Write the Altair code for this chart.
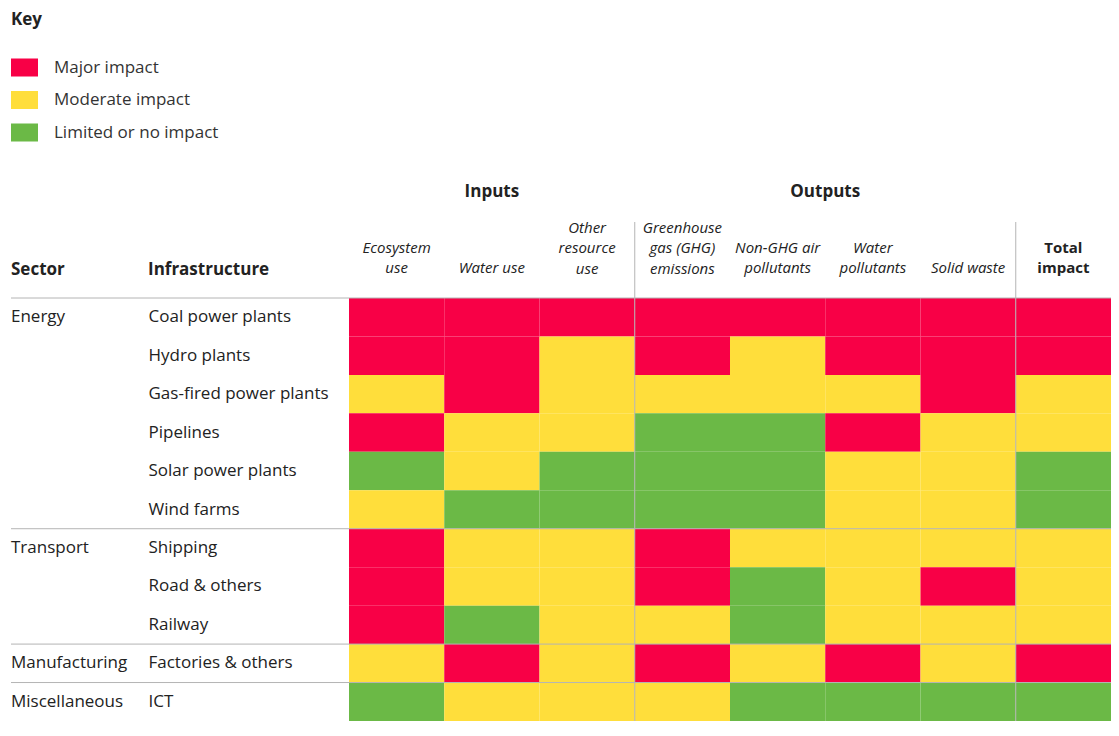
import altair as alt
import pandas as pd

# ---- data ----
sectors = ["Energy", "Energy", "Energy", "Energy", "Energy", "Energy",
           "Transport", "Transport", "Transport", "Manufacturing", "Miscellaneous"]
infrastructure = ["Coal power plants", "Hydro plants", "Gas-fired power plants", "Pipelines",
                  "Solar power plants", "Wind farms", "Shipping", "Road & others", "Railway",
                  "Factories & others", "ICT"]
columns = ["Ecosystem\nuse", "Water use", "Other\nresource\nuse",
           "Greenhouse\ngas (GHG)\nemissions", "Non-GHG air\npollutants",
           "Water\npollutants", "Solid waste", "Total\nimpact"]
levels = ["Major impact", "Moderate impact", "Limited or no impact"]
colors = ["#F80046", "#FFDE3B", "#6BB946"]
code_names = {"M": "Major impact", "O": "Moderate impact", "L": "Limited or no impact"}
impact_rows = [
    ["M", "M", "M", "M", "M", "M", "M", "M"],  # Coal power plants
    ["M", "M", "O", "M", "O", "M", "M", "M"],  # Hydro plants
    ["O", "M", "O", "O", "O", "O", "M", "O"],  # Gas-fired power plants
    ["M", "O", "O", "L", "L", "M", "O", "O"],  # Pipelines
    ["L", "O", "L", "L", "L", "O", "O", "L"],  # Solar power plants
    ["O", "L", "L", "L", "L", "O", "O", "L"],  # Wind farms
    ["M", "O", "O", "M", "O", "O", "O", "O"],  # Shipping
    ["M", "O", "O", "M", "L", "O", "M", "O"],  # Road & others
    ["M", "L", "O", "O", "L", "O", "O", "O"],  # Railway
    ["O", "M", "O", "M", "O", "M", "O", "M"],  # Factories & others
    ["L", "O", "O", "O", "L", "L", "L", "L"],  # ICT
]
groups = ["Inputs", "Outputs"]

cells = pd.DataFrame([
    {"infrastructure": inf, "column": col, "impact": code_names[c]}
    for inf, row in zip(infrastructure, impact_rows)
    for col, c in zip(columns, row)
])
first_rows = pd.DataFrame([
    {"sector": s, "infrastructure": inf}
    for i, (s, inf) in enumerate(zip(sectors, infrastructure))
    if i == 0 or sectors[i - 1] != s
])

W, H = 762, 423
TEXT = "#222222"
LINE = "#B4B4B4"
LEFT = -338

xscale = alt.Scale(domain=columns, paddingInner=0, paddingOuter=0)
yscale = alt.Scale(domain=infrastructure, paddingInner=0, paddingOuter=0)

n_lines = "length(split(datum.value, '\\n'))"
x_axis = alt.Axis(
    orient="top", title=None, labelAngle=0, labelAlign="center", labelBaseline="bottom",
    labelPadding={"condition": [{"test": f"{n_lines} == 1", "value": 23},
                                {"test": f"{n_lines} == 2", "value": 43}],
                  "value": 63},
    labelFontSize=15, labelLineHeight=20.5, labelColor=TEXT,
    labelLimit=0, labelOverlap=False, domain=False, ticks=False, tickSize=0,
    labelExpr="split(datum.label, '\\n')",
    labelFontStyle={"condition": {"test": "indexof(datum.value, 'Total') >= 0", "value": "normal"},
                    "value": "italic"},
    labelFontWeight={"condition": {"test": "indexof(datum.value, 'Total') >= 0", "value": "bold"},
                     "value": "normal"},
)
y_axis = alt.Axis(
    title=None, labelAlign="left", labelBaseline="middle", labelPadding=201, labelFontSize=17,
    labelColor=TEXT, labelLimit=0, domain=False, ticks=False, tickSize=0, labelOverlap=False,
)

rect_path = "M-1,-0.667L1,-0.667L1,0.667L-1,0.667Z"

heat = alt.Chart(cells).mark_rect().encode(
    x=alt.X("column:N", scale=xscale, axis=x_axis, title=None),
    y=alt.Y("infrastructure:N", scale=yscale, axis=y_axis, title=None),
    color=alt.Color("impact:N", scale=alt.Scale(domain=levels, range=colors),
                    legend=alt.Legend(title="Key", orient="none", legendX=LEFT, legendY=-286,
                                      direction="vertical", symbolType=rect_path, symbolSize=729,
                                      symbolStrokeWidth=0, symbolOpacity=1,
                                      labelFontSize=17, labelColor="#333333", labelOffset=16,
                                      titleFontSize=17, titleFontWeight="bold", titleColor=TEXT,
                                      titlePadding=25, rowPadding=9.5, padding=0, labelLimit=0)),
)

hrules = alt.Chart(first_rows).mark_rule(color=LINE, strokeWidth=1).encode(
    y=alt.Y("infrastructure:N", scale=yscale, bandPosition=0, title=None),
    x=alt.value(LEFT), x2=alt.value(W),
)

vlines = pd.DataFrame({"column": [columns[3], columns[7]]})
vrules = alt.Chart(vlines).mark_rule(color=LINE, strokeWidth=1).encode(
    x=alt.X("column:N", scale=xscale, bandPosition=0, title=None),
    y=alt.value(-76), y2=alt.value(H),
)

sector_text = alt.Chart(first_rows).mark_text(
    align="left", baseline="middle", fontSize=17, color=TEXT
).encode(
    y=alt.Y("infrastructure:N", scale=yscale, title=None),
    x=alt.value(LEFT),
    text="sector:N",
)

hdr = pd.DataFrame({"label": ["Sector", "Infrastructure"]})
sector_hdr = alt.Chart(hdr.iloc[[0]]).mark_text(
    align="left", baseline="middle", fontSize=17, fontWeight="bold", color=TEXT
).encode(x=alt.value(LEFT), y=alt.value(-28), text="label:N")
infra_hdr = alt.Chart(hdr.iloc[[1]]).mark_text(
    align="left", baseline="middle", fontSize=17, fontWeight="bold", color=TEXT
).encode(x=alt.value(-201), y=alt.value(-28), text="label:N")

inputs_hdr = alt.Chart(pd.DataFrame({"label": [groups[0]], "column": [columns[1]]})).mark_text(
    align="center", baseline="middle", fontSize=17, fontWeight="bold", color=TEXT
).encode(x=alt.X("column:N", scale=xscale, bandPosition=0.5, title=None),
         y=alt.value(-106), text="label:N")
outputs_hdr = alt.Chart(pd.DataFrame({"label": [groups[1]], "column": [columns[5]]})).mark_text(
    align="center", baseline="middle", fontSize=17, fontWeight="bold", color=TEXT
).encode(x=alt.X("column:N", scale=xscale, bandPosition=0, title=None),
         y=alt.value(-106), text="label:N")

chart = alt.layer(
    heat, hrules, vrules, sector_text, sector_hdr, infra_hdr, inputs_hdr, outputs_hdr
).properties(
    width=W, height=H,
    autosize=alt.AutoSizeParams(type="none"),
    padding={"left": 341, "top": 290, "right": 0, "bottom": 0},
).configure(
    font="Open Sans",
).configure_view(stroke=None).configure_axis(grid=False)

chart.save("out.html", embed_options={"renderer": "svg", "actions": False})
